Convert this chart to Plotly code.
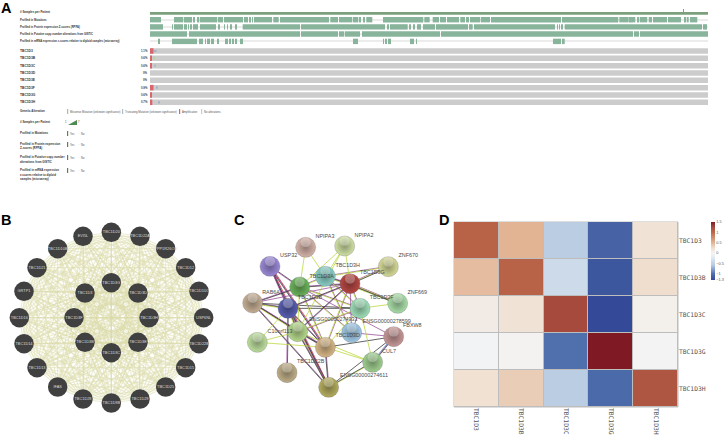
import itertools, math
import plotly.graph_objects as go

W, H = 724, 436

# ---------- Panel A data ----------
track_names = ["Profiled in Mutations",
               "Profiled in Protein expression Z-scores (RPPA)",
               "Profiled in Putative copy-number alterations from GISTIC",
               "Profiled in mRNA expression z-scores relative to diploid samples (microarray)"]
mutation_runs = [(150,161),(174,183.3),(184,185.3),(186.3,187.3),(188.3,189.3),(190.3,191.3),(193.3,195),(197,199),
    (199.7,217),(217.7,223),(224,243),(244,248),(249.3,250.7),(252,253),(254,272),(273.3,278.7),(280,329),(330.3,338),
    (339,352.3),(353,358.3),(359,361),(363,365),(366.3,372.3),(383,423.3),(424.3,429.7),(432.7,439),(440,446),(447,459),
    (460.3,465),(466,469),(470,480.3),(481,490),(491,561),(562,618.3),(619.3,628.7),(629.7,630.7),(631.7,632.7),
    (633.7,635.3),(637.7,639),(639.7,647.3),(648.7,652),(653,667),(668,681),(684,685.7),(686.7,688.7),(690,697.3)]
rppa_runs = [(150,163),(172,173),(174,183),(184,187),(188,189),(190,192),(193,198),(200,216),(218,220),(224,225),
    (227,228),(230,232),(235,237),(242.7,300),(301,385),(387,388.3),(390,407.7),(409.7,411),(413,415),(417,421),
    (423,435),(436,468),(469,472.7),(474,555),(557,558),(559,560),(561.3,562.7),(564.7,702),(703,707)]
cna_runs = [(150,187),(189,300),(301,338),(339,344.3),(345,360),(362,440),(441,633),(634,639),(640,708)]
mrna_runs = [(158,159.7),(172,197),(199,203),(205,206),(207,210),(211,214),(217,219),(225,228),(229,231),(232,234),
    (235,237),(240,243),(353,358),(383,384),(385,387),(388,391),(410,414),(416,417),(553,561),(562,564.7)]
track_runs = [mutation_runs, rppa_runs, cna_runs, mrna_runs]

genes = ["TBC1D3","TBC1D3B","TBC1D3C","TBC1D3D","TBC1D3E","TBC1D3F","TBC1D3G","TBC1D3H"]
altered_pct = ["1.1%","0.6%","0.6%","0%","0%","0.9%","0.6%","0.7%"]
amp_end = [153.5,152,152,150,150,153.5,152,152.3]
other_start = [154,153.5,154.5,None,None,156,None,158]
other_end = [156.5,154.5,155.8,None,None,158,None,160]
other_color = ["#a9b2c6","#b9d39b","#b4bac8",None,None,"#a9b2c6",None,"#a9b2c6"]

legend_items = ["Missense Mutation (unknown significance)","Truncating Mutation (unknown significance)","Amplification","No alterations"]
legend_blocks = [["Profiled in Mutations"],["Profiled in Protein expression","Z-scores (RPPA)"],
                 ["Profiled in Putative copy-number","alterations from GISTIC"],
                 ["Profiled in mRNA expression","z-scores relative to diploid","samples (microarray)"]]

# ---------- Panel B data ----------
ppi_names = ["EVI5L","TBC1D20","TBC1D22A","TBC1D10B","PPP1R26OS","TBC1D21","TBC1D12","GRTP1","TBC1D10C","TBC1D16","USP6NL",
             "TBC1D14","TBC1D22B","TBC1D13","TBC1D15","IFAS","TBC1D25","TBC1D28","TBC1D9B","TBC1D29",
             "TBC1D3G","TBC1D3","TBC1D3D","TBC1D3F","TBC1D3H","TBC1D3B","TBC1D3E","TBC1D3C"]
ppi_x = [249,334,420,173,497,111,557,72,597,58,611,72,597,111,557,173,497,249,334,420,334,255,414,222,447,255,414,334]
ppi_y = [94,82,94,131,131,188,188,259,259,338,338,416,416,488,488,546,546,582,594,582,233,264,264,338,338,412,412,443]

# ---------- Panel C data ----------
string_x = [165,272,389,520,331,405,254,113,219,548,435,248,410,536,127,331,473,216,341]
string_y = [184,127,123,185,214,236,246,294,310,295,310,380,383,395,412,427,472,503,547]
string_colors = ["#9a88d6","#d4b3a9","#cfe0a4","#d5d996","#88cdc4","#b44743","#6bb25b","#c5ae94","#575eaf","#a9dca7",
                 "#9eddb7","#b5d88c","#9fc7e4","#c59696","#bddd9e","#d5b586","#9fce8f","#beae88","#b4ac5e"]
string_edges = [(0,18,"rpk"),(0,15,"rpk"),(0,8,"kp"),(0,6,"kp"),(7,8,"pky"),(7,6,"pk"),(7,15,"pk"),(7,18,"pk"),(7,11,"pky"),
    (7,10,"k"),(7,5,"p"),(8,17,"kp"),(8,18,"kpy"),(8,15,"pk"),(8,11,"pky"),(8,14,"y"),(8,10,"k"),
    (6,5,"pk"),(6,4,"py"),(6,10,"py"),(6,12,"py"),(6,15,"py"),(6,11,"y"),(6,13,"p"),
    (4,5,"pk"),(4,3,"py"),(4,9,"py"),(4,10,"py"),(4,12,"py"),(4,2,"y"),
    (5,3,"pyk"),(5,9,"pyk"),(5,10,"py"),(5,11,"pk"),(5,8,"pk"),(5,15,"py"),(5,12,"p"),
    (1,6,"y"),(1,4,"y"),(2,5,"y"),(2,6,"y"),(2,11,"y"),
    (10,9,"y"),(10,11,"py"),(10,15,"y"),(10,12,"p"),(11,14,"y"),(11,15,"pk"),(11,18,"pk"),(11,16,"y"),
    (15,13,"k"),(15,16,"y"),(15,18,"pk"),(15,14,"y"),(13,16,"kpb"),(13,18,"k"),(13,12,"p"),(16,18,"yk"),(16,10,"y")]
evidence_color = {"p":"#9a4f9e","k":"#3a3a3a","y":"#bcd93f","r":"#d8343a","b":"#5a9ad0"}
string_labels = ["NPIPA3","NPIPA2","USP32","ZNF670","TBC1D3H","TBC1D3A","TBC1D3G","TBC1D3F","ZNF669","RAB6A","TBC1D3B",
                 "ENSG00000274933","ENSG00000278599","FBXW8","C10orf113","TBC1D3D","CUL7","TBC1D22B","ENSG00000274611"]
label_x = [330,447,221,580,398,320,472,500,607,168,285,355,515,592,195,398,522,287,447]
label_y = [95,91,151,152,182,214,204,278,262,262,277,345,350,362,381,393,440,470,513]

# ---------- Panel D data ----------
hm_cols = ["TBC1D3","TBC1D3B","TBC1D3C","TBC1D3G","TBC1D3H"]
hm_rows = ["TBC1D3","TBC1D3B","TBC1D3C","TBC1D3G","TBC1D3H"]
hm_vals = [[1.05,0.50,-0.55,-1.10,0.20],
           [0.45,1.05,-0.40,-1.20,0.25],
           [0.10,0.20,1.25,-1.30,0.05],
           [-0.03,0.02,-1.00,1.50,-0.02],
           [0.22,0.35,-0.55,-1.05,1.15]]
cb_ticks = [1.5,1,0.5,0,-0.5,-1,-1.3]
cb_ticktext = ["1.5","1","0.5","0","−0.5","−1","−1.3"]

GREEN = "#88b49b"
fig = go.Figure()

def px(x): return x / W
def py(y): return 1 - y / H

def darker(c, f=0.68):
    r, g, b = int(c[1:3], 16), int(c[3:5], 16), int(c[5:7], 16)
    return f"rgb({int(r*f)},{int(g*f)},{int(b*f)})"

def note(x, y, text, size=3, color="#333", bold=False, anchor="left", family="Liberation Sans"):
    t = f"<b>{text}</b>" if bold else text
    fig.add_annotation(xref="paper", yref="paper", x=px(x), y=py(y), text=t, showarrow=False,
                       xanchor=anchor, yanchor="middle", font=dict(size=size, color=color, family=family),
                       borderpad=0, borderwidth=0)

def rect(x0, y0, x1, y1, color):
    fig.add_shape(type="rect", xref="paper", yref="paper", x0=px(x0), x1=px(x1), y0=py(y0), y1=py(y1),
                  fillcolor=color, line_width=0)

def hbar(starts, ends, yc, h, color):
    fig.add_trace(go.Bar(orientation="h", base=starts, x=[e - s for s, e in zip(starts, ends)], y=[yc] * len(starts),
                         width=h, marker=dict(color=color, line_width=0), xaxis="x", yaxis="y",
                         showlegend=False, hoverinfo="skip"))

# ---- A: oncoprint ----
XL, XR = 150, 708
hbar([XL], [XR], 13.4, 2.8, "#7da07c")
hbar([683], [683.6], 10.5, 3, "#7da07c")
note(20, 12.2, "# Samples per Patient", 2.9, bold=True)
track_c = [19.7, 26.9, 34, 41.4]
for name, runs, yc in zip(track_names, track_runs, track_c):
    hbar([XL], [XR], yc, 0.9, "#ececec")
    hbar([r[0] for r in runs], [r[1] for r in runs], yc, 5.4, GREEN)
    note(20, yc, name, 2.7, bold=True)
gene_c = [51 + 7.33 * i for i in range(len(genes))]
for i, g in enumerate(genes):
    yc = gene_c[i]
    hbar([XL], [XR], yc, 5.5, "#cccccc")
    if amp_end[i] > XL:
        hbar([XL], [amp_end[i]], yc, 5.5, "#d9666c")
    if other_start[i] is not None:
        hbar([other_start[i]], [other_end[i]], yc, 2.2, other_color[i])
    note(20, yc, g, 3.3, bold=True)
    note(148, yc, altered_pct[i], 2.8, bold=True, anchor="right")

# ---- A: legend ----
note(20, 111, "Genetic Alteration", 2.9, bold=True)
leg_x = [67, 122, 179, 201]
leg_c = ["#a9c48c", "#b7bcc4", "#d9666c", "#cccccc"]
for lx, lc, lt in zip(leg_x, leg_c, legend_items):
    rect(lx, 109, lx + 1.2, 114, lc)
    note(lx + 2.5, 111.5, lt, 2.7, color="#555")
note(20, 122, "# Samples per Patient", 2.9, bold=True)
fig.add_shape(type="path", xref="paper", yref="paper",
              path=f"M {px(68)} {py(125)} L {px(77)} {py(125)} L {px(77)} {py(120)} Z", fillcolor="#4f8a55", line_width=0)
note(67, 122.5, "1", 2.6, anchor="right")
note(78, 122.5, "7", 2.6)
block_y = [133, 144, 157, 170]
block_sw = [133.5, 144.5, 157.5, 170.5]
for ys, sw, block in zip(block_y, block_sw, legend_blocks):
    for j, line in enumerate(block):
        note(20, ys + j * 4.5, line, 2.85, bold=True)
    rect(67, sw - 2.5, 68.2, sw + 2.5, "#4f8a55")
    note(69.5, sw + 0.5, "Yes", 2.7, color="#555")
    rect(78, sw + 0.2, 79.5, sw + 0.6, "#dddddd")
    note(81, sw + 0.5, "No", 2.7, color="#555")

# ---- B: PPI circle ----
ex, ey = [], []
for i, j in itertools.combinations(range(len(ppi_names)), 2):
    ex += [ppi_x[i], ppi_x[j], None]
    ey += [ppi_y[i], ppi_y[j], None]
fig.add_trace(go.Scatter(x=ex, y=ey, mode="lines", line=dict(color="rgba(220,220,170,0.5)", width=1.1),
                         xaxis="x2", yaxis="y2", showlegend=False, hoverinfo="skip"))
fig.add_trace(go.Scatter(x=ppi_x, y=ppi_y, mode="markers+text", text=ppi_names, textposition="middle center",
                         textfont=dict(size=3.9, color="#dcdcdc", family="Liberation Sans"),
                         marker=dict(size=19.5, color="#404040", line_width=0),
                         xaxis="x2", yaxis="y2", showlegend=False, hoverinfo="skip"))

# ---- C: STRING network ----
OFF = 1.9
for a, b, ev in string_edges:
    x0, y0, x1, y1 = string_x[a], string_y[a], string_x[b], string_y[b]
    L = math.hypot(x1 - x0, y1 - y0)
    nx, ny = -(y1 - y0) / L, (x1 - x0) / L
    for k, code in enumerate(ev):
        d = (k - (len(ev) - 1) / 2) * OFF
        fig.add_trace(go.Scatter(x=[x0 + nx * d, x1 + nx * d], y=[y0 + ny * d, y1 + ny * d], mode="lines",
                                 line=dict(color=evidence_color[code], width=0.85), opacity=0.92,
                                 xaxis="x3", yaxis="y3", showlegend=False, hoverinfo="skip"))
fig.add_trace(go.Scatter(x=string_x, y=string_y, mode="markers",
                         marker=dict(size=20, color=string_colors,
                                     gradient=dict(type="radial", color=[darker(c) for c in string_colors]),
                                     line=dict(width=0.4, color="rgba(90,90,90,0.7)")),
                         xaxis="x3", yaxis="y3", showlegend=False, hoverinfo="skip"))
fig.add_trace(go.Scatter(x=string_x, y=[v - 15 for v in string_y], mode="markers",
                         marker=dict(size=10, color="rgba(255,255,255,0.28)", line_width=0),
                         xaxis="x3", yaxis="y3", showlegend=False, hoverinfo="skip"))
fig.add_trace(go.Scatter(x=label_x, y=label_y, mode="text", text=string_labels, textposition="middle center",
                         textfont=dict(size=5.4, color="#4a4a4a", family="Liberation Sans"),
                         xaxis="x3", yaxis="y3", showlegend=False, hoverinfo="skip"))

# ---- D: heatmap ----
scale = [[0, "#344a98"], [0.107, "#5070ad"], [0.25, "#b4c9e1"], [0.4, "#e6edf4"], [0.464, "#f4f4f4"],
         [0.55, "#f0dfd0"], [0.643, "#e2b494"], [0.82, "#bd684b"], [0.91, "#a64a3e"], [1, "#7f1a25"]]
fig.add_trace(go.Heatmap(z=hm_vals, x=hm_cols, y=hm_rows, zmin=-1.3, zmax=1.5, colorscale=scale, xgap=1, ygap=1,
                         xaxis="x4", yaxis="y4", hoverinfo="skip",
                         colorbar=dict(x=711 / W, xanchor="left", y=py(222), yanchor="top", thickness=4,
                                       thicknessmode="pixels", len=58, lenmode="pixels", outlinewidth=0,
                                       tickvals=cb_ticks, ticktext=cb_ticktext, ticks="", xpad=0, ypad=0,
                                       tickfont=dict(size=3.8, color="#555", family="Liberation Sans"))))
fig.add_shape(type="rect", xref="x4 domain", yref="y4 domain", x0=0, x1=1, y0=0, y1=1,
              fillcolor="#bdbdbd", line=dict(color="#bdbdbd", width=1), layer="below")

# ---- panel letters ----
for letter, lx, ly in [("A", 1, 8.5), ("B", 1, 219.5), ("C", 233.5, 219.5), ("D", 438.5, 219.5)]:
    note(lx, ly, letter, 14.5, color="#000", bold=True)

hidden = dict(visible=False, fixedrange=True)
fig.update_layout(
    width=W, height=H, margin=dict(l=0, r=0, t=0, b=0), paper_bgcolor="white", plot_bgcolor="rgba(0,0,0,0)",
    barmode="overlay", showlegend=False,
    xaxis=dict(domain=[px(XL), px(XR)], range=[XL, XR], anchor="y", **hidden),
    yaxis=dict(domain=[py(106), py(8)], range=[106, 8], anchor="x", **hidden),
    xaxis2=dict(domain=[0, px(215)], range=[0, 645], anchor="y2", **hidden),
    yaxis2=dict(domain=[py(436), py(205)], range=[693, 0], anchor="x2", **hidden),
    xaxis3=dict(domain=[px(215), px(430)], range=[0, 645], anchor="y3", **hidden),
    yaxis3=dict(domain=[py(436), py(205)], range=[693, 0], anchor="x3", **hidden),
    xaxis4=dict(domain=[px(454), px(678)], anchor="y4", type="category", tickangle=90, ticks="", side="bottom",
                tickfont=dict(size=6.3, color="#555", family="DejaVu Sans Mono"), showgrid=False, zeroline=False,
                fixedrange=True),
    yaxis4=dict(domain=[py(407), py(222)], anchor="x4", type="category", autorange="reversed", side="right", ticks="",
                tickfont=dict(size=6.3, color="#555", family="DejaVu Sans Mono"), showgrid=False, zeroline=False,
                fixedrange=True),
)
fig.write_html("out.html", config=dict(displayModeBar=False),
               post_script="document.body.style.margin='0';document.documentElement.style.overflow='hidden';")
